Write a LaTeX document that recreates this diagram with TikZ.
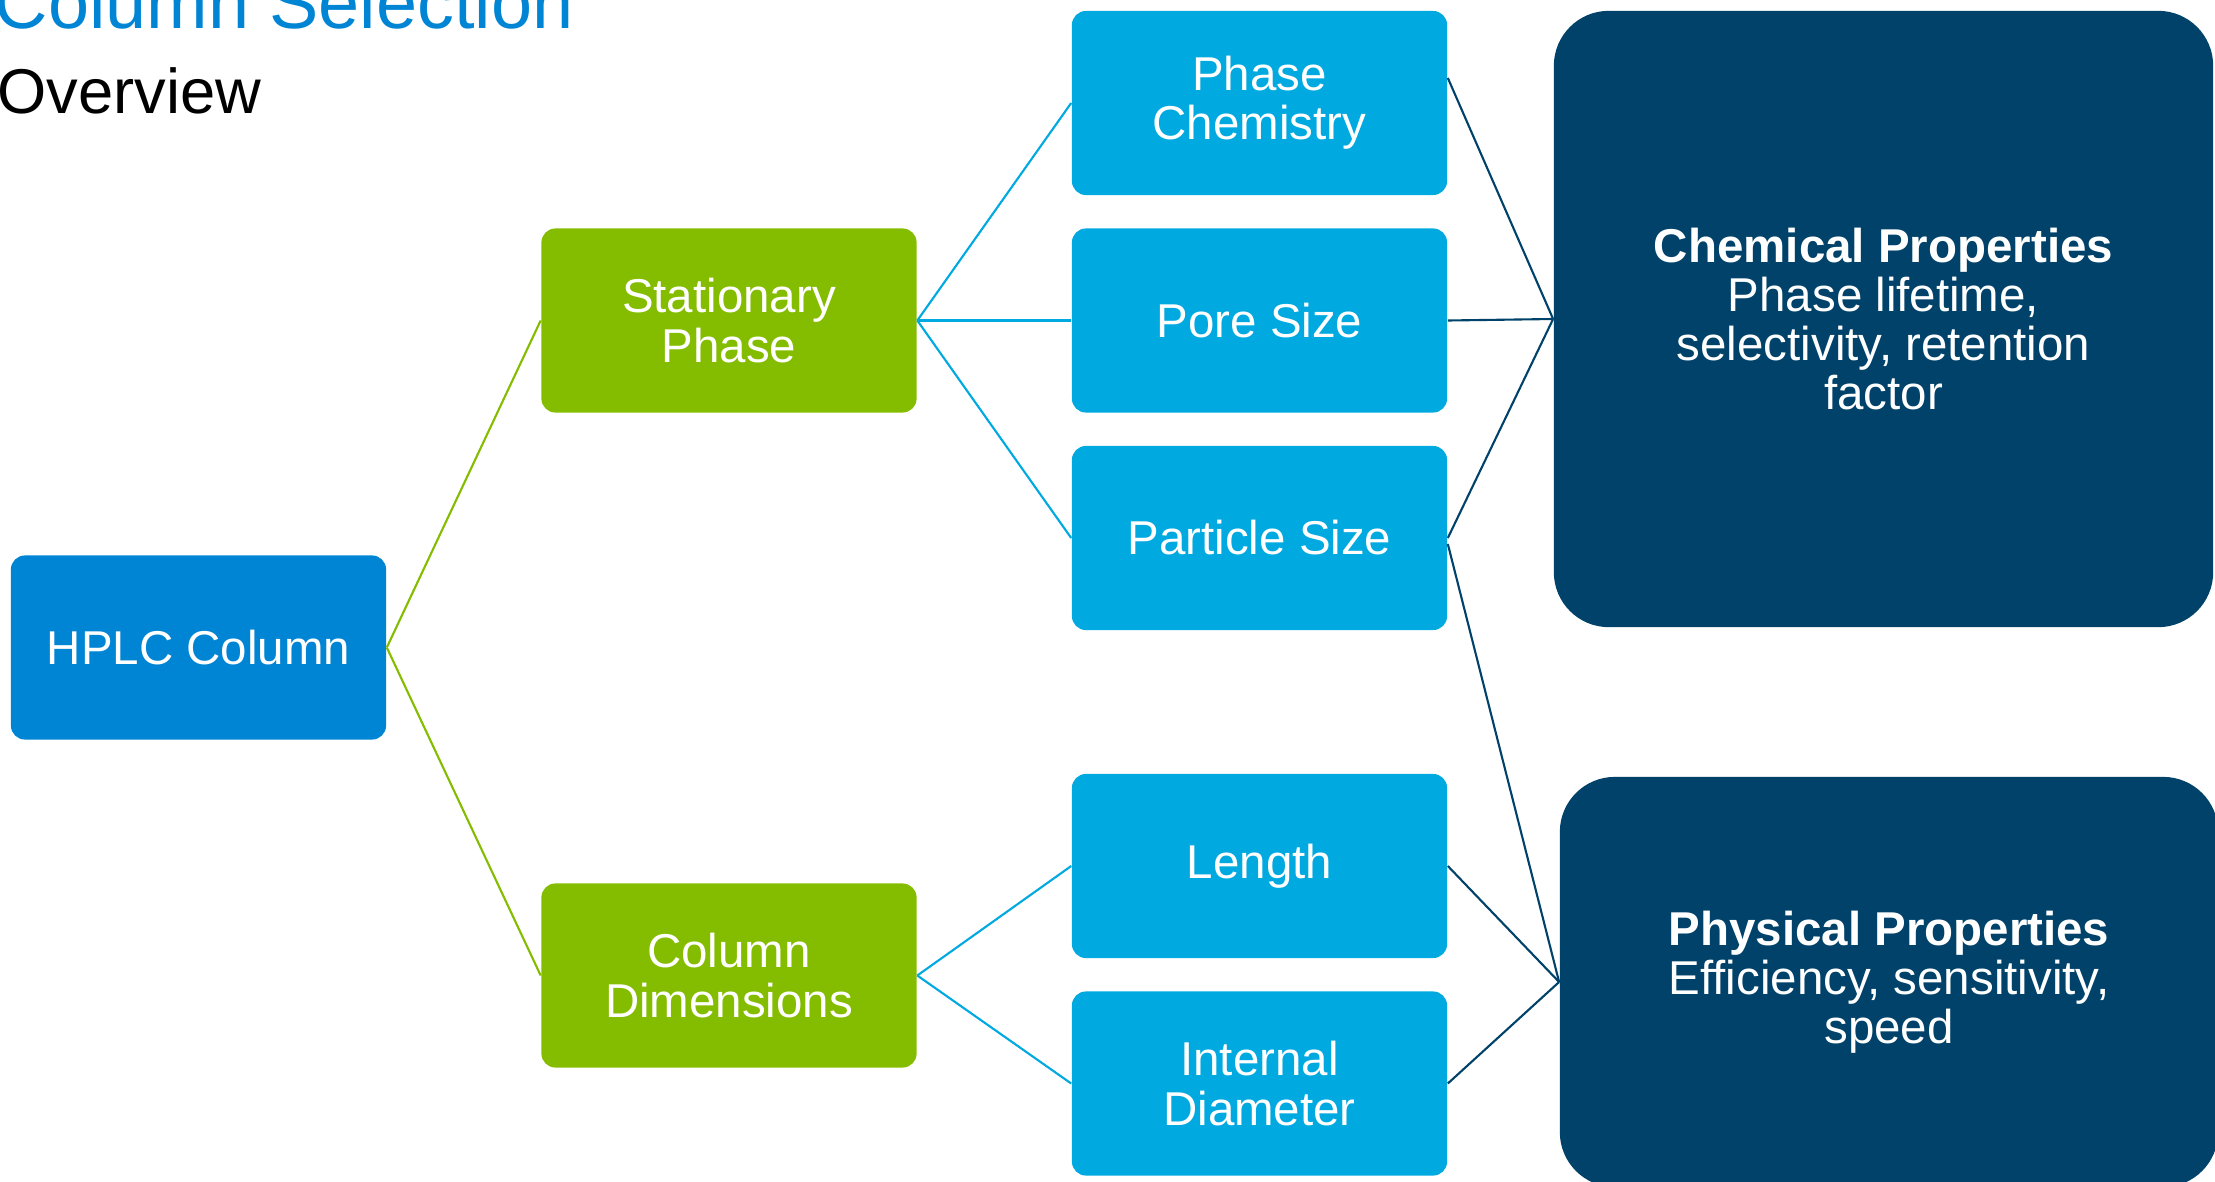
\documentclass[tikz,border=0pt]{standalone}
\usepackage{fontspec}
\setmainfont{Liberation Sans}
\usepackage{tikz}
\usetikzlibrary{positioning}
\definecolor{hplcblue}{HTML}{0085D5}
\definecolor{stemgreen}{HTML}{84BD00}
\definecolor{leafblue}{HTML}{00A9E0}
\definecolor{propnavy}{HTML}{00426A}
\tikzstyle{rootbox}=[rectangle,rounded corners=0.14cm,fill=hplcblue,text=white,minimum width=3.75cm,minimum height=1.84cm,align=center,font=\fontsize{13.5}{14}\selectfont]
\tikzstyle{groupbox}=[rootbox,fill=stemgreen]
\tikzstyle{leafbox}=[rootbox,fill=leafblue]
\tikzstyle{propbox}=[rectangle,rounded corners=0.55cm,fill=propnavy,text=white,align=center,font=\fontsize{13.5}{14}\selectfont]
\tikzstyle{greenedge} = [draw,stemgreen,line width=0.6pt]
\tikzstyle{blueedge} = [draw,leafblue,line width=0.6pt]
\tikzstyle{navyedge} = [draw,propnavy,line width=0.6pt]

\begin{document}
\begin{tikzpicture}[x=0.01cm, y=-0.01cm]

    \useasboundingbox (0,0) rectangle (2215,1182);

    % title
    \node[anchor=base west, inner sep=0pt, text=hplcblue, font=\fontsize{21}{24}\selectfont] (title) at (-6, 29) {Column Selection};
    \node[anchor=base west, inner sep=0pt, font=\fontsize{18}{21}\selectfont] (subtitle) at (-3, 114) {Overview};

    % tree
    \node[rootbox] (hplc) at (198.5, 647.5) {HPLC Column};
    \node[groupbox] (stat) at (729, 320.5) {Stationary\\Phase};
    \node[groupbox] (dims) at (729, 975.5) {Column\\Dimensions};

    \foreach \y/\name/\txt in {103/chem/Phase\\Chemistry, 320.5/pore/Pore Size, 538/part/Particle Size, 866/len/Length, 1083.5/diam/Internal\\Diameter}
        \node[leafbox] (\name) at (1259.5, \y) {\txt};

    % properties
    \node[propbox, minimum width=6.59cm, minimum height=6.16cm] (chemprop) at (1883.5, 319)
        {\textbf{Chemical Properties}\\Phase lifetime,\\selectivity, retention\\factor};
    \node[propbox, minimum width=6.58cm, minimum height=4.1cm] (physprop) at (1889, 982)
        {\textbf{Physical Properties}\\Efficiency, sensitivity,\\speed};

    \foreach \source/\dest in {hplc/stat, hplc/dims}
        \path[greenedge] (\source.east) -- (\dest.west);

    \foreach \source/\dest in {stat/chem, stat/pore, stat/part, dims/len, dims/diam}
        \path[blueedge] (\source.east) -- (\dest.west);

    \path[navyedge] ([yshift=0.25cm]chem.east) -- (chemprop.west);
    \foreach \source in {pore, part}
        \path[navyedge] (\source.east) -- (chemprop.west);
    \path[navyedge] ([yshift=-0.06cm]part.east) -- (physprop.west);
    \foreach \source in {len, diam}
        \path[navyedge] (\source.east) -- (physprop.west);

\end{tikzpicture}
\end{document}
